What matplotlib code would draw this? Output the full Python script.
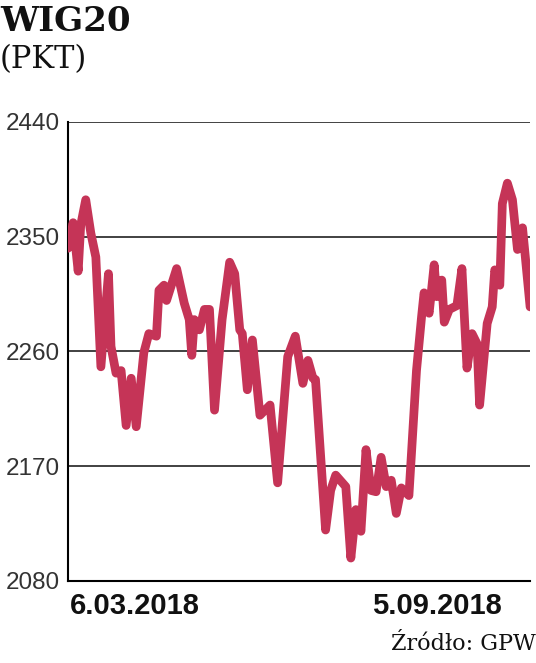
import matplotlib.pyplot as plt

# WIG20 close, days counted from 6.03.2018
days = [0, 2, 4, 5, 7, 9, 11, 13, 16, 17, 19, 21, 23, 25, 27, 30, 32, 35, 36, 38,
        39, 43, 46, 48, 49, 50, 52, 54, 56, 58, 61, 64, 66, 68, 69, 71, 73, 76, 80, 83,
        87, 90, 93, 95, 97, 98, 102, 104, 106, 110, 112, 114, 116, 118, 120, 122, 124, 126, 128, 130,
        132, 135, 138, 140, 141, 143, 145, 146, 148, 149, 151, 154, 156, 158, 160, 162, 163, 166, 168, 169,
        171, 172, 174, 176, 178, 180, 183]
wig20 = [2341, 2361, 2323, 2359, 2379, 2353, 2334, 2248, 2321, 2264, 2243, 2245, 2202, 2239, 2201, 2259, 2274, 2272, 2308, 2312,
         2300, 2325, 2298, 2285, 2257, 2285, 2277, 2293, 2293, 2214, 2285, 2330, 2321, 2277, 2274, 2230, 2269, 2210, 2218, 2157,
         2256, 2272, 2235, 2253, 2239, 2238, 2120, 2151, 2163, 2154, 2098, 2136, 2119, 2183, 2151, 2150, 2177, 2154, 2159, 2133,
         2153, 2147, 2245, 2287, 2306, 2290, 2328, 2303, 2316, 2283, 2293, 2296, 2325, 2247, 2274, 2266, 2218, 2282, 2295, 2324,
         2312, 2376, 2392, 2379, 2340, 2357, 2295]
y_ticks = [2080, 2170, 2260, 2350, 2440]
date_labels = ['6.03.2018', '5.09.2018']

fig = plt.figure(figsize=(5.36, 6.63), dpi=100)
ax = fig.add_axes([0.127, 0.1237, 0.862, 0.6923])

ax.plot(days, wig20, color='#C53457', lw=6.3, solid_joinstyle='round', solid_capstyle='round', zorder=3)

ax.set_xlim(0, 183)
ax.set_ylim(2080, 2440)
ax.set_yticks(y_ticks)
ax.set_yticklabels([str(v) for v in y_ticks], fontfamily='Liberation Sans', fontsize=17.5, color='#333333')
ax.set_xticks([])
ax.tick_params(axis='y', length=0, pad=6)
ax.grid(axis='y', color='#333333', lw=1.3, zorder=1)
for s in ['top', 'right']:
    ax.spines[s].set_visible(False)
ax.spines['left'].set_linewidth(1.5)
ax.spines['bottom'].set_linewidth(1.5)

ax.text(0.004, -0.025, date_labels[0], transform=ax.transAxes, ha='left', va='top',
        fontfamily='Liberation Sans', fontweight='bold', fontsize=21, color='#111111')
ax.text(0.939, -0.025, date_labels[1], transform=ax.transAxes, ha='right', va='top',
        fontfamily='Liberation Sans', fontweight='bold', fontsize=21, color='#111111')

fig.text(0.0, 0.993, 'WIG20', ha='left', va='top', fontfamily='DejaVu Serif',
         fontweight='bold', fontsize=24.5, color='#111111')
fig.text(0.0, 0.934, '(PKT)', ha='left', va='top', fontfamily='DejaVu Serif',
         fontsize=22, color='#111111')
fig.text(1.0, 0.012, 'Źródło: GPW', ha='right', va='bottom', fontfamily='DejaVu Serif',
         fontsize=16, color='#111111')

fig.savefig('out.png', dpi=100)
